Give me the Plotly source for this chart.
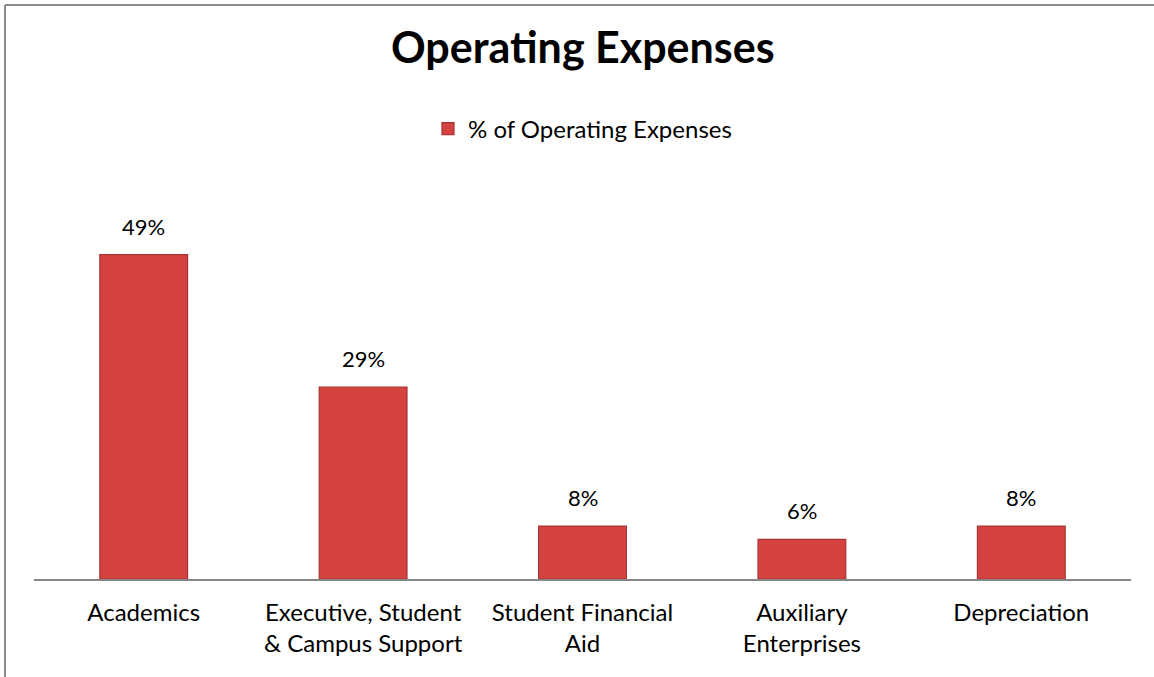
import plotly.graph_objects as go

categories = ["Academics", "Executive, Student<br>& Campus Support", "Student Financial<br>Aid",
              "Auxiliary<br>Enterprises", "Depreciation"]
values = [49, 29, 8, 6, 8]
value_labels = ["49%", "29%", "8%", "6%", "8%"]
series_name = "% of Operating Expenses"
title_text = "<b>Operating Expenses</b>"

W, H = 1154, 677
L, R, T, B = 34, 23, 170, 98
px_per_unit = 6.62
ymax = (H - T - B) / px_per_unit

fig = go.Figure()
fig.add_trace(go.Bar(
    x=categories, y=values, name=series_name,
    marker=dict(color="#D4433F", line=dict(color="#A83332", width=1.2)),
    showlegend=True,
))

for c, v, t in zip(categories, values, value_labels):
    fig.add_annotation(x=c, y=v, text=t, showarrow=False, yanchor="bottom", yshift=13,
                       font=dict(family="Lato", size=22, color="#000000"))

plot_w = W - L - R
plot_h = H - T - B
xl = (5 - L) / plot_w
yt = (H - B - 5) / plot_h
fig.add_shape(type="line", xref="paper", yref="paper", x0=xl, x1=xl, y0=-B / plot_h, y1=yt,
              line=dict(color="#8C8C8C", width=2))
fig.add_shape(type="line", xref="paper", yref="paper", x0=xl, x1=(W - L) / plot_w, y0=yt, y1=yt,
              line=dict(color="#8C8C8C", width=2))

fig.update_layout(
    width=W, height=H,
    margin=dict(l=L, r=R, t=T, b=B, autoexpand=False),
    paper_bgcolor="white", plot_bgcolor="white",
    bargap=0.6,
    font=dict(family="Lato", size=24, color="#000000"),
    title=dict(text=title_text, x=0.505, xanchor="center", y=1 - 48 / H, yanchor="middle",
               font=dict(family="Lato", size=43, color="#000000")),
    legend=dict(orientation="h", x=0.5, xanchor="center", y=(H - B - 129) / plot_h, yanchor="middle",
                font=dict(family="Lato", size=24), itemwidth=30, bgcolor="rgba(0,0,0,0)"),
    xaxis=dict(showline=True, linecolor="#868686", linewidth=2, ticks="", showgrid=False,
               tickfont=dict(family="Lato", size=24), ticklabelstandoff=11, fixedrange=True),
    yaxis=dict(range=[0, ymax], visible=False, showgrid=False, zeroline=False, fixedrange=True),
)

fig.write_html("out.html", config={"displayModeBar": False},
               post_script="document.body.style.margin='0';document.body.style.overflow='hidden';"
                           "document.documentElement.style.overflow='hidden';")
